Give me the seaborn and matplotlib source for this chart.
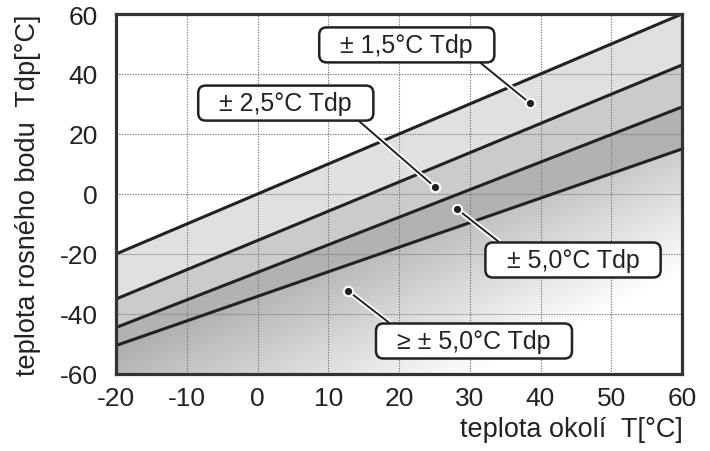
import numpy as np
import matplotlib
matplotlib.use("Agg")
import matplotlib.pyplot as plt
import matplotlib.patheffects as pe
from matplotlib.patches import BoxStyle
import seaborn as sns

# hranice pasem presnosti (teplota okoli -> teplota rosneho bodu)
t_okoli = [-20, 60]
hranice_15 = [-20, 60]
hranice_25 = [-35, 43]
hranice_50 = [-44.5, 29]
hranice_50plus = [-50.5, 15]

# popisky: text, pozice boxu, bod
popisky = ["± 1,5°C Tdp", "± 2,5°C Tdp", "± 5,0°C Tdp", "≥ ± 5,0°C Tdp"]
box_x = [21.1, 4.0, 44.6, 30.6]
box_y = [49.7, 30.3, -22.0, -49.0]
bod_x = [38.5, 25.1, 28.2, 12.8]
bod_y = [30.3, 2.3, -5.0, -32.3]
roh = [(1, 0), (1, 0), (0, 1), (0, 1)]

xticks = list(range(-20, 61, 10))
yticks = list(range(-60, 61, 20))

sns.set_theme(style="white")
plt.rcParams['font.family'] = ['Liberation Sans', 'DejaVu Sans']
plt.rcParams['axes.unicode_minus'] = False

fig = plt.figure(figsize=(7.1, 4.52), dpi=100)
ax = fig.add_axes([116 / 710, 1 - 375 / 452, 566 / 710, 360 / 452])

x = np.array(t_okoli, dtype=float)
ax.fill_between(x, hranice_25, hranice_15, color="#e0e0e0", lw=0, zorder=0.2)
ax.fill_between(x, hranice_50, hranice_25, color="#cbcbcb", lw=0, zorder=0.2)
ax.fill_between(x, hranice_50plus, hranice_50, color="#b2b2b2", lw=0, zorder=0.2)
spodek = ax.fill_between(x, -60, hranice_50plus, color="none", lw=0, zorder=0.2)

# gradient pod posledni hranici
gx, gy = np.meshgrid(np.linspace(-20, 60, 300), np.linspace(-60, 60, 300))
l4 = np.interp(gx, x, hranice_50plus)
val = np.clip(0.68 + 0.0015 * (gx + 20) + 0.0047 * (l4 - gy), 0, 1)
img = ax.imshow(val, cmap="gray", vmin=0, vmax=1, extent=(-20, 60, -60, 60),
                origin="lower", aspect="auto", zorder=0.1, interpolation="bilinear")
img.set_clip_path(spodek.get_paths()[0], transform=ax.transData)

for h in [hranice_15, hranice_25, hranice_50, hranice_50plus]:
    sns.lineplot(x=t_okoli, y=h, ax=ax, color="#222222", lw=2.2, zorder=2)

ax.set_xlim(-20, 60)
ax.set_ylim(-60, 60)
ax.set_xticks(xticks)
ax.set_yticks(yticks)
ax.set_axisbelow(True)
ax.grid(True, color="#7a7a7a", lw=0.8, linestyle=(0, (1.2, 1.2)))
ax.tick_params(length=0, labelsize=19, colors="#222222")
ax.tick_params(axis="y", pad=13)
ax.tick_params(axis="x", pad=9)
for s in ax.spines.values():
    s.set_linewidth(2.3)
    s.set_color("#333333")
    s.set_zorder(5)


def siroky_box(x0, y0, width, height, mutation_size):
    padx = 0.85 * mutation_size
    pady = 0.22 * mutation_size
    return BoxStyle.Round(pad=0, rounding_size=0.3)(
        x0 - padx, y0 - pady, width + 2 * padx, height + 2 * pady, mutation_size)


halo = [pe.withStroke(linewidth=4, foreground="white")]
for txt, tx, ty, bx, by, rp in zip(popisky, box_x, box_y, bod_x, bod_y, roh):
    ax.annotate(txt, xy=(bx, by), xytext=(tx, ty), ha="center", va="center",
                fontsize=18, color="#222222", zorder=6,
                bbox=dict(boxstyle=siroky_box, fc="white", ec="#222222", lw=1.8),
                arrowprops=dict(arrowstyle="-", color="#222222", lw=1.4,
                                relpos=rp, shrinkA=0, shrinkB=0,
                                path_effects=halo))
ax.scatter(bod_x, bod_y, s=45, color="#222222", edgecolor="white", linewidth=1.5, zorder=7)

fig.text(28 / 710, 1 - 195 / 452, "teplota rosného bodu  Tdp[°C]", rotation=90,
         ha="center", va="center", fontsize=19.5, color="#222222")
fig.text(683 / 710, 1 - 437 / 452, "teplota okolí  T[°C]", ha="right", va="baseline",
         fontsize=19.5, color="#222222")

fig.savefig("out.png", dpi=100)
